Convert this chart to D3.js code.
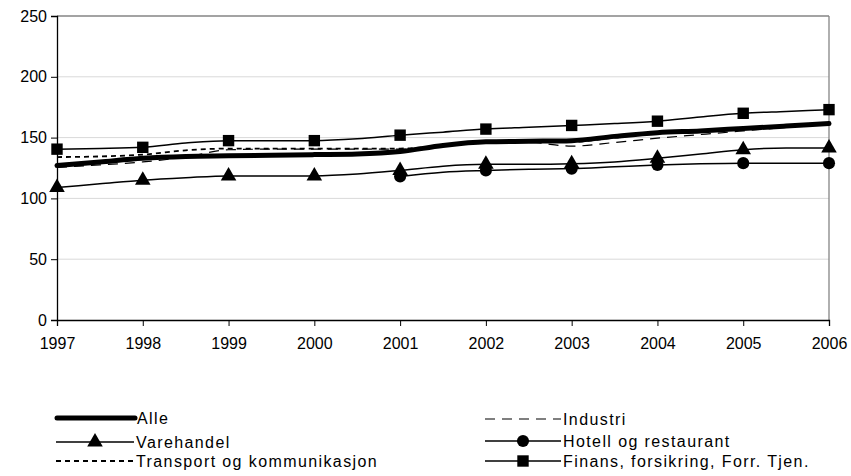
<!DOCTYPE html>
<html><head><meta charset="utf-8">
<script src="https://cdn.jsdelivr.net/npm/d3@7"></script>
<style>
html,body{margin:0;padding:0;background:#fff;}
text{font-family:"Liberation Sans",Arial,sans-serif;fill:#000;}
</style></head>
<body>
<svg id="c" width="851" height="476"></svg>
<script>
// Half-year observation points (markers drawn at whole years)
const periods = [1997,1997.5,1998,1998.5,1999,1999.5,2000,2000.5,2001,2001.5,2002,2002.5,2003,2003.5,2004,2004.5,2005,2005.5,2006];
const yearTicks = [1997,1998,1999,2000,2001,2002,2003,2004,2005,2006];
const yTicks = [0,50,100,150,200,250];

const alle       = [127,130,133,134.5,135,135.5,136,136.5,138.5,143.5,146.5,147,147.5,151,154,155.5,157.5,159.5,161.5];
const industri   = [125.5,127.5,130,134,140,140.5,140.5,140.5,140.5,143,146,146,143,146,149.5,152.5,155.5,158.5,162.5];
const varehandel = [109,112,115,117,118.5,118.5,118.5,120,123,126.5,128,128,128.5,130,133,136.5,140,141.5,141.5];
const hotell     = [null,null,null,null,null,null,null,null,118,121.5,123,124,124.5,126,127.5,128.5,129,129,129];
const transport  = [134,134.5,136,139.5,141,141,141,141,141,143.5,146,146.5,146.5,150,153.5,155,157,159,161.5];
const finans     = [140.5,141,142,145.5,147.5,147.5,147.5,149,152,154.5,157,158.5,160,161.5,163.5,167,170,171.5,173];

const seriesNames = ["Alle","Industri","Varehandel","Hotell og restaurant","Transport og kommunikasjon","Finans, forsikring, Forr. Tjen."];

const svg = d3.select("#c");
const L = 57, R = 829, T = 16, B = 320;
const x = d3.scaleLinear().domain([1997,2006]).range([L,R]);
const y = d3.scaleLinear().domain([0,250]).range([B,T]);

// gridlines
svg.append("g").selectAll("line").data(yTicks.filter(d=>d>0 && d<250)).join("line")
  .attr("x1",L).attr("x2",R).attr("y1",d=>y(d)).attr("y2",d=>y(d))
  .attr("stroke","#d9d9d9").attr("stroke-width",1);
// top & right border
svg.append("line").attr("x1",L).attr("x2",R).attr("y1",y(250)).attr("y2",y(250)).attr("stroke","#858585").attr("stroke-width",1.3);
svg.append("line").attr("x1",R).attr("x2",R).attr("y1",T).attr("y2",B).attr("stroke","#858585").attr("stroke-width",1.3);

// axes
const yAxis = d3.axisLeft(y).tickValues(yTicks).tickSize(6).tickPadding(4);
const gy = svg.append("g").attr("transform",`translate(${L},0)`).call(yAxis);
gy.select(".domain").attr("stroke","#000").attr("stroke-width",1.3);
gy.selectAll(".tick line").attr("stroke","#000");
gy.selectAll("text").attr("font-size",16).attr("font-family","Liberation Sans, Arial, sans-serif");

const xAxis = d3.axisBottom(x).tickValues(yearTicks).tickFormat(d3.format("d")).tickSize(6).tickPadding(12);
const gx = svg.append("g").attr("transform",`translate(0,${B})`).call(xAxis);
gx.select(".domain").attr("stroke","#000").attr("stroke-width",1.3);
gx.selectAll(".tick line").attr("stroke","#000");
gx.selectAll("text").attr("font-size",16).attr("font-family","Liberation Sans, Arial, sans-serif");

const line = d3.line().defined(d=>d[1]!=null).x(d=>x(d[0])).y(d=>y(d[1])).curve(d3.curveMonotoneX);
const pts = arr => periods.map((p,i)=>[p,arr[i]]);

function drawLine(arr, opts){
  svg.append("path").datum(pts(arr)).attr("d",line).attr("fill","none")
    .attr("stroke","#000").attr("stroke-width",opts.w)
    .attr("stroke-dasharray",opts.dash||null)
    .attr("stroke-linecap",opts.cap||"butt").attr("stroke-linejoin","round");
}
const tri = d3.symbol().type(d3.symbolTriangle).size(105);
const sq = d3.symbol().type(d3.symbolSquare).size(130);
const circ = d3.symbol().type(d3.symbolCircle).size(115);
function drawMarkers(arr, sym){
  const d = pts(arr).filter(p=>p[1]!=null && Number.isInteger(p[0]));
  svg.append("g").selectAll("path").data(d).join("path")
    .attr("d",sym).attr("transform",p=>`translate(${x(p[0])},${y(p[1])})`).attr("fill","#000");
}

drawLine(hotell,{w:1.5}); drawMarkers(hotell,circ);
drawLine(varehandel,{w:1.5}); drawMarkers(varehandel,tri);
drawLine(finans,{w:1.5}); drawMarkers(finans,sq);
drawLine(transport,{w:1.8,dash:"5,4"});
drawLine(industri,{w:1.2,dash:"10,7"});
drawLine(alle,{w:5,cap:"round"});

// legend
const lg = svg.append("g").attr("font-size",16).attr("letter-spacing","1.4px");
const legendItems = [
  {name:seriesNames[0], x1:57, x2:135, y:418, w:5, cap:"round"},
  {name:seriesNames[2], x1:56, x2:134, y:442, w:1.5, sym:tri},
  {name:seriesNames[4], x1:56, x2:134, y:461, w:1.8, dash:"5,4"},
  {name:seriesNames[1], x1:485, x2:561, y:419, w:1.2, dash:"10,7"},
  {name:seriesNames[3], x1:485, x2:561, y:441, w:1.5, sym:circ},
  {name:seriesNames[5], x1:485, x2:561, y:461, w:1.5, sym:sq}
];
legendItems.forEach(it=>{
  lg.append("line").attr("x1",it.x1).attr("x2",it.x2).attr("y1",it.y).attr("y2",it.y)
    .attr("stroke","#000").attr("stroke-width",it.w).attr("stroke-dasharray",it.dash||null)
    .attr("stroke-linecap",it.cap||"butt");
  if(it.sym) lg.append("path").attr("d",it.sym).attr("transform",`translate(${(it.x1+it.x2)/2},${it.y})`).attr("fill","#000");
  lg.append("text").attr("x",it.x2+2).attr("y",it.y).attr("dy","0.36em").text(it.name);
});
</script>
</body></html>
